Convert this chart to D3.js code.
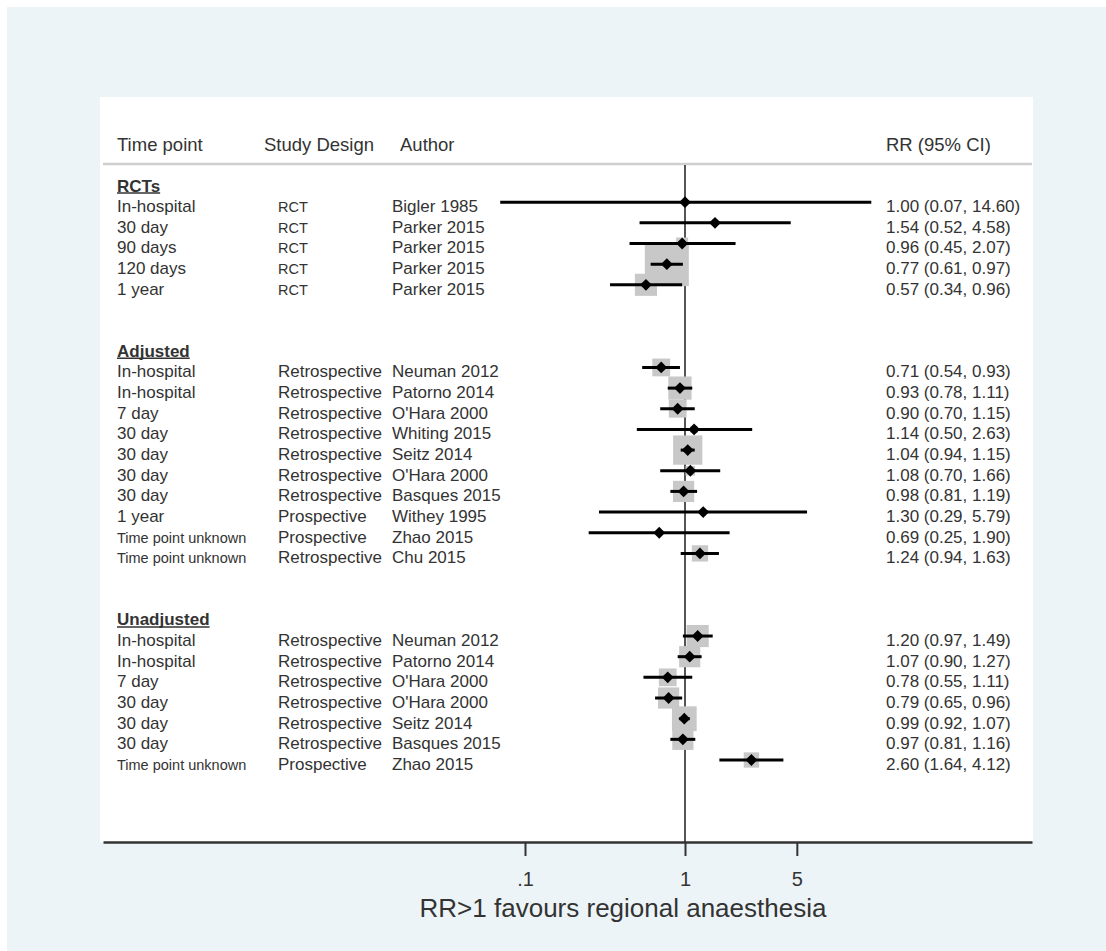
<!DOCTYPE html>
<html>
<head>
<meta charset="utf-8">
<script src="https://cdn.jsdelivr.net/npm/d3@7"></script>
<style>
  html, body { margin: 0; padding: 0; background: #ffffff; }
  svg { display: block; }
  text { font-family: "Liberation Sans", Arial, sans-serif; fill: #333; }
</style>
</head>
<body>
<div id="chart"></div>
<script>
/* ---- data ---- */
var groups = ["RCTs", "Adjusted", "Unadjusted"];

// group index of each study row
var groupOf = [0,0,0,0,0, 1,1,1,1,1,1,1,1,1,1, 2,2,2,2,2,2,2];

var timePoints = ["In-hospital","30 day","90 days","120 days","1 year",
  "In-hospital","In-hospital","7 day","30 day","30 day","30 day","30 day","1 year","Time point unknown","Time point unknown",
  "In-hospital","In-hospital","7 day","30 day","30 day","30 day","Time point unknown"];

var designs = ["RCT","RCT","RCT","RCT","RCT",
  "Retrospective","Retrospective","Retrospective","Retrospective","Retrospective","Retrospective","Retrospective","Prospective","Prospective","Retrospective",
  "Retrospective","Retrospective","Retrospective","Retrospective","Retrospective","Retrospective","Prospective"];

var authors = ["Bigler 1985","Parker 2015","Parker 2015","Parker 2015","Parker 2015",
  "Neuman 2012","Patorno 2014","O'Hara 2000","Whiting 2015","Seitz 2014","O'Hara 2000","Basques 2015","Withey 1995","Zhao 2015","Chu 2015",
  "Neuman 2012","Patorno 2014","O'Hara 2000","O'Hara 2000","Seitz 2014","Basques 2015","Zhao 2015"];

var rr    = [1.00,1.54,0.96,0.77,0.57, 0.71,0.93,0.90,1.14,1.04,1.08,0.98,1.30,0.69,1.24, 1.20,1.07,0.78,0.79,0.99,0.97,2.60];
var lower = [0.07,0.52,0.45,0.61,0.34, 0.54,0.78,0.70,0.50,0.94,0.70,0.81,0.29,0.25,0.94, 0.97,0.90,0.55,0.65,0.92,0.81,1.64];
var upper = [14.60,4.58,2.07,0.97,0.96, 0.93,1.11,1.15,2.63,1.15,1.66,1.19,5.79,1.90,1.63, 1.49,1.27,1.11,0.96,1.07,1.16,4.12];

// study weights (%), estimated from the size of the grey boxes
var weights = [0.1,0.4,1.4,19.0,4.8, 3.1,5.3,3.1,0.5,8.4,0.9,4.4,0.2,0.3,2.6, 4.8,4.4,3.1,4.4,6.0,4.4,2.3];

var tickValues = [0.1, 1, 5];
var tickLabels = [".1", "1", "5"];

var headers = ["Time point", "Study Design", "Author", "RR (95% CI)"];
var axisTitle = "RR>1 favours regional anaesthesia";

/* ---- layout ---- */
var W = 1106, H = 951;
var panel = {x: 100, y: 97, w: 933, bottom: 842};

var svg = d3.select("#chart").append("svg").attr("width", W).attr("height", H);

// background + white panel
svg.append("rect").attr("x", 7).attr("y", 7).attr("width", W - 7).attr("height", H - 7).attr("fill", "#edf4f7");
svg.append("rect").attr("x", panel.x).attr("y", panel.y).attr("width", panel.w)
   .attr("height", panel.bottom - panel.y).attr("fill", "#ffffff");

// row index for each study: heading row, studies, then 2 blank rows
var rows = [];
var headRows = [];
var r = 0;
groups.forEach(function(g, gi){
    headRows.push(r);
    r++;
    groupOf.forEach(function(v, i){
        if(v == gi){ rows[i] = r; r++; }
    });
    r += 2;
});

// text baseline of each row
var y = d3.scaleLinear().domain([0, 28]).range([191.5, 770]);

// log scale for RR, .1 -> 525, 1 -> 685, stretched to the panel width
var x = d3.scaleLog().domain([0.1, 1]).range([525, 685]);
x.domain([x.invert(panel.x + 3), x.invert(panel.x + panel.w - 1)]).range([panel.x + 3, panel.x + panel.w - 1]);

var boxSize = d3.scaleSqrt().domain([0, d3.max(weights)]).range([0, 44]);

var colX = {time: 117, design: 278, author: 392, rr: 886};
var headX = [117, 264, 400, 886];

// headers
svg.selectAll(".head").data(headers).enter().append("text")
   .attr("class", "head")
   .attr("x", function(d, i){ return headX[i]; })
   .attr("y", 151)
   .style("font-size", "18.5px")
   .text(function(d){ return d; });

svg.append("line")
   .attr("x1", panel.x + 3).attr("x2", panel.x + panel.w - 1)
   .attr("y1", 164).attr("y2", 164)
   .attr("stroke", "#cfcfcf").attr("stroke-width", 2.5);

// reference line at RR = 1
svg.append("line")
   .attr("x1", x(1)).attr("x2", x(1))
   .attr("y1", 165).attr("y2", panel.bottom)
   .attr("stroke", "#555").attr("stroke-width", 2);

// group headings, bold + underlined
var heads = svg.selectAll(".grp").data(groups).enter().append("g").attr("class", "grp");
heads.append("text")
   .attr("x", colX.time)
   .attr("y", function(d, i){ return y(headRows[i]); })
   .style("font-size", "17px").style("font-weight", "bold")
   .text(function(d){ return d; })
   .each(function(d, i){
       var len = this.getComputedTextLength();
       d3.select(this.parentNode).append("line")
          .attr("x1", colX.time).attr("x2", colX.time + len)
          .attr("y1", y(headRows[i]) + 1.5).attr("y2", y(headRows[i]) + 1.5)
          .attr("stroke", "#333").attr("stroke-width", 1.5);
   });

// study text columns
var idx = d3.range(rr.length);
svg.selectAll(".tp").data(idx).enter().append("text")
   .attr("x", colX.time)
   .attr("y", function(i){ return y(rows[i]); })
   .style("font-size", function(i){ return timePoints[i].length > 12 ? "14.5px" : "17px"; })
   .text(function(i){ return timePoints[i]; });

svg.selectAll(".ds").data(idx).enter().append("text")
   .attr("x", colX.design)
   .attr("y", function(i){ return y(rows[i]); })
   .style("font-size", function(i){ return designs[i] == "RCT" ? "14.5px" : "17px"; })
   .text(function(i){ return designs[i]; });

svg.selectAll(".au").data(idx).enter().append("text")
   .attr("x", colX.author)
   .attr("y", function(i){ return y(rows[i]); })
   .style("font-size", "17px")
   .text(function(i){ return authors[i]; });

svg.selectAll(".rr").data(idx).enter().append("text")
   .attr("x", colX.rr)
   .attr("y", function(i){ return y(rows[i]); })
   .style("font-size", "17px")
   .text(function(i){
       return rr[i].toFixed(2) + " (" + lower[i].toFixed(2) + ", " + upper[i].toFixed(2) + ")";
   });

// marks: grey weight boxes, then CI lines, then diamonds
function markY(i){ return y(rows[i]) - 10; }

svg.selectAll(".box").data(idx).enter().append("rect")
   .attr("x", function(i){ return x(rr[i]) - boxSize(weights[i]) / 2; })
   .attr("y", function(i){ return markY(i) - boxSize(weights[i]) / 2; })
   .attr("width", function(i){ return boxSize(weights[i]); })
   .attr("height", function(i){ return boxSize(weights[i]); })
   .attr("fill", "#c8c8c8");

svg.selectAll(".ci").data(idx).enter().append("line")
   .attr("x1", function(i){ return x(lower[i]); })
   .attr("x2", function(i){ return x(upper[i]); })
   .attr("y1", markY).attr("y2", markY)
   .attr("stroke", "#000").attr("stroke-width", 3);

svg.selectAll(".pt").data(idx).enter().append("path")
   .attr("d", d3.symbol().type(d3.symbolSquare).size(70))
   .attr("transform", function(i){ return "translate(" + x(rr[i]) + "," + markY(i) + ") rotate(45)"; })
   .attr("fill", "#000");

// x axis
var axis = d3.axisBottom(x)
   .tickValues(tickValues)
   .tickSizeOuter(0)
   .tickSizeInner(14)
   .tickPadding(16)
   .tickFormat(function(d, i){ return tickLabels[i]; });

var ax = svg.append("g").attr("transform", "translate(0," + panel.bottom + ")").call(axis);
ax.select(".domain").attr("stroke", "#333").attr("stroke-width", 2.5);
ax.selectAll(".tick line").attr("stroke", "#333").attr("stroke-width", 2);
ax.selectAll(".tick text")
   .style("font-family", "'Liberation Sans', Arial, sans-serif")
   .style("font-size", "20px").attr("fill", "#333");

svg.append("text")
   .attr("x", 623).attr("y", 917)
   .attr("text-anchor", "middle")
   .style("font-size", "26px")
   .text(axisTitle);
</script>
</body>
</html>
